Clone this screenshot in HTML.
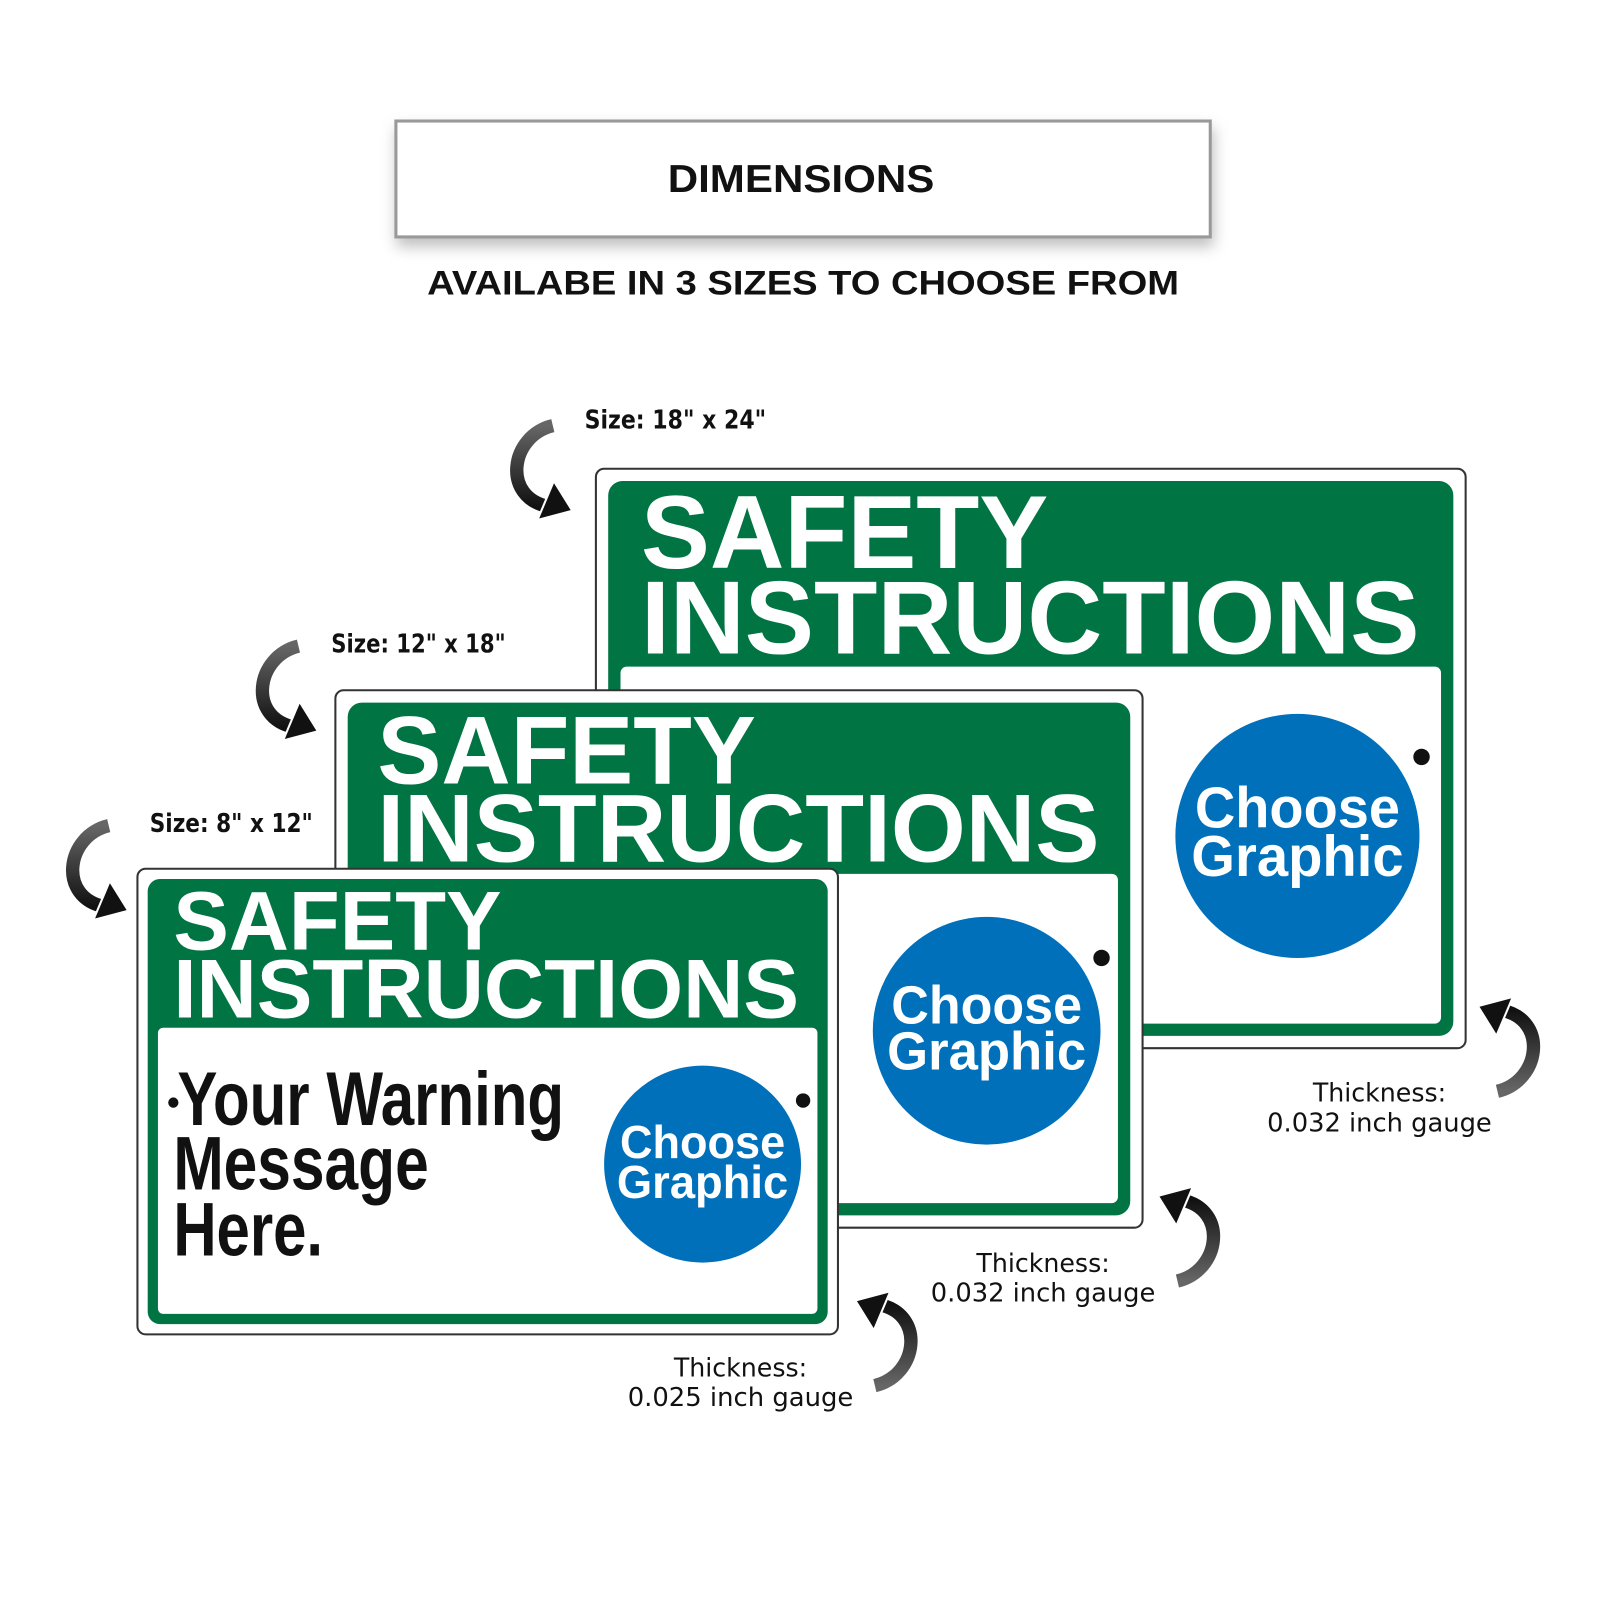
<!DOCTYPE html>
<html><head><meta charset="utf-8"><style>
html,body{margin:0;padding:0;background:#fff}
svg{display:block}
</style></head><body>
<svg width="1600" height="1600" viewBox="0 0 1560 1560" xmlns="http://www.w3.org/2000/svg" font-family="Liberation Sans, Arial, sans-serif">
<defs>
<filter id="sh" x="-10%" y="-30%" width="120%" height="170%"><feDropShadow dx="2" dy="8" stdDeviation="7" flood-color="#000" flood-opacity="0.25"/></filter>
<linearGradient id="ag" x1="0" y1="0" x2="0" y2="1"><stop offset="0" stop-color="#666"/><stop offset="1" stop-color="#111"/></linearGradient>
<g id="arr">
<path d="M542,418 C500,428 492,488 538,497" fill="none" stroke="#fff" stroke-width="20" stroke-linecap="round"/>
<path d="M542,418 C500,428 492,488 538,497" fill="none" stroke="url(#ag)" stroke-width="13"/>
<polygon points="561,501 543,472 527,510" fill="#111" stroke="#fff" stroke-width="2"/>
</g>
</defs>
<rect width="1560" height="1560" fill="#fff"/>
<g transform="translate(-3,-3)">
<!-- header -->
<rect x="389" y="121" width="794" height="113" fill="#fff" stroke="#999" stroke-width="3" filter="url(#sh)"/>
<text x="784" y="190" font-size="38" font-weight="bold" text-anchor="middle" fill="#111" textLength="260" lengthAdjust="spacingAndGlyphs">DIMENSIONS</text>
<text x="786" y="290" font-size="33" font-weight="bold" text-anchor="middle" fill="#111" textLength="733" lengthAdjust="spacingAndGlyphs">AVAILABE IN 3 SIZES TO CHOOSE FROM</text>

<use href="#arr"/>
<use href="#arr" transform="translate(-248,215)"/>
<use href="#arr" transform="translate(-433,390)"/>
<use href="#arr" transform="translate(2005,1485) rotate(180)"/>
<use href="#arr" transform="translate(1693,1670) rotate(180)"/>
<use href="#arr" transform="translate(1398,1772) rotate(180)"/>

<g font-size="25" fill="#111" font-family="DejaVu Sans Condensed, Liberation Sans, sans-serif" font-weight="bold">
<text x="573" y="421" textLength="177" lengthAdjust="spacingAndGlyphs">Size: 18" x 24"</text>
<text x="326" y="639" textLength="170" lengthAdjust="spacingAndGlyphs">Size: 12" x 18"</text>
<text x="149" y="814" textLength="159" lengthAdjust="spacingAndGlyphs">Size: 8" x 12"</text>
<g text-anchor="middle" font-weight="normal">
<text x="1348" y="1077" textLength="130" lengthAdjust="spacingAndGlyphs">Thickness:</text>
<text x="1348" y="1106" textLength="219" lengthAdjust="spacingAndGlyphs">0.032 inch gauge</text>
<text x="1020" y="1243" textLength="130" lengthAdjust="spacingAndGlyphs">Thickness:</text>
<text x="1020" y="1272" textLength="219" lengthAdjust="spacingAndGlyphs">0.032 inch gauge</text>
<text x="725" y="1345" textLength="130" lengthAdjust="spacingAndGlyphs">Thickness:</text>
<text x="725" y="1374" textLength="220" lengthAdjust="spacingAndGlyphs">0.025 inch gauge</text>
</g>
</g>

<rect x="584" y="460" width="848" height="565" rx="8" fill="#fff" stroke="#333" stroke-width="2"/>
<rect x="596" y="472" width="824" height="541" rx="14" fill="#017443"/>
<rect x="608" y="653" width="800" height="348" rx="6" fill="#fff"/>
<g fill="#fff" font-weight="bold">
<text x="628" y="557" font-size="101" textLength="397" lengthAdjust="spacingAndGlyphs">SAFETY</text>
<text x="628" y="640" font-size="101" textLength="759" lengthAdjust="spacingAndGlyphs">INSTRUCTIONS</text>
</g>
<circle cx="1268" cy="818" r="119" fill="#0070bb"/>
<circle cx="1389" cy="741" r="8" fill="#111"/>
<g fill="#fff" font-weight="bold" text-anchor="middle">
<text x="1268" y="810" font-size="56" textLength="200" lengthAdjust="spacingAndGlyphs">Choose</text>
<text x="1268" y="857" font-size="56" textLength="207" lengthAdjust="spacingAndGlyphs">Graphic</text>
</g>

<rect x="330" y="676" width="787" height="524" rx="8" fill="#fff" stroke="#333" stroke-width="2"/>
<rect x="342" y="688" width="763" height="500" rx="14" fill="#017443"/>
<rect x="354" y="855" width="739" height="321" rx="6" fill="#fff"/>
<g fill="#fff" font-weight="bold">
<text x="371" y="767" font-size="94" textLength="369" lengthAdjust="spacingAndGlyphs">SAFETY</text>
<text x="371" y="843" font-size="94" textLength="704" lengthAdjust="spacingAndGlyphs">INSTRUCTIONS</text>
</g>
<circle cx="965" cy="1008" r="111" fill="#0070bb"/>
<circle cx="1077" cy="937" r="8" fill="#111"/>
<g fill="#fff" font-weight="bold" text-anchor="middle">
<text x="965" y="1001" font-size="52" textLength="186" lengthAdjust="spacingAndGlyphs">Choose</text>
<text x="965" y="1046" font-size="52" textLength="194" lengthAdjust="spacingAndGlyphs">Graphic</text>
</g>

<rect x="137" y="850" width="683" height="454" rx="8" fill="#fff" stroke="#333" stroke-width="2"/>
<rect x="147" y="860" width="663" height="434" rx="12" fill="#017443"/>
<rect x="157" y="1005" width="643" height="279" rx="5" fill="#fff"/>
<g fill="#fff" font-weight="bold">
<text x="172" y="929" font-size="81" textLength="320" lengthAdjust="spacingAndGlyphs">SAFETY</text>
<text x="172" y="995" font-size="81" textLength="610" lengthAdjust="spacingAndGlyphs">INSTRUCTIONS</text>
</g>
<circle cx="688" cy="1138" r="96" fill="#0070bb"/>
<circle cx="786" cy="1076" r="7" fill="#111"/>
<circle cx="172" cy="1078" r="5" fill="#111"/>
<g fill="#fff" font-weight="bold" text-anchor="middle">
<text x="688" y="1132" font-size="45" textLength="161" lengthAdjust="spacingAndGlyphs">Choose</text>
<text x="688" y="1171" font-size="45" textLength="167" lengthAdjust="spacingAndGlyphs">Graphic</text>
</g>
<g fill="#111" font-weight="bold" font-size="74">
<text x="176" y="1100" textLength="377" lengthAdjust="spacingAndGlyphs">Your Warning</text>
<text x="172" y="1163" textLength="249" lengthAdjust="spacingAndGlyphs">Message</text>
<text x="172" y="1227" textLength="146" lengthAdjust="spacingAndGlyphs">Here.</text>
</g>
</g>
</svg>
</body></html>
